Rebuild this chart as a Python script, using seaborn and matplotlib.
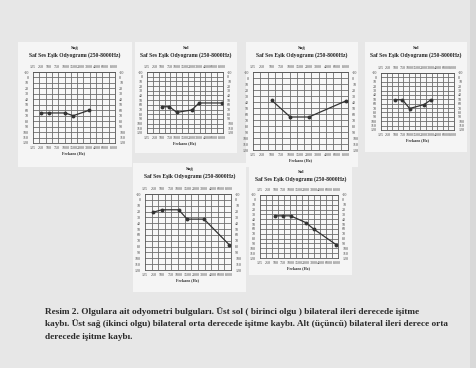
import matplotlib
matplotlib.use("Agg")
import matplotlib.pyplot as plt
import seaborn as sns
import numpy as np
from matplotlib.patches import Rectangle

sns.set_style("white")
plt.rcParams['font.family'] = ['Liberation Serif', 'DejaVu Serif']

# Frequency categories of the audiogram grid
freqs = ['125', '250', '500', '750', '1000', '1500', '2000', '3000', '4000', '6000', '8000']
db_ticks = [-10, 0, 10, 20, 30, 40, 50, 60, 70, 80, 90, 100, 110, 120]

# Case 1
case1_right_f = ['250', '500', '1000', '1500', '3000']
case1_right_db = [65, 65, 65, 70, 60]
case1_left_f = ['500', '750', '1000', '2000', '3000', '8000']
case1_left_db = [64, 64, 76, 71, 56, 56]
# Case 2
case2_right_f = ['500', '1000', '2000', '8000']
case2_right_db = [37, 65, 65, 38]
case2_left_f = ['500', '750', '1000', '2000', '3000']
case2_left_db = [51, 51, 71, 62, 51]
# Case 3
case3_right_f = ['250', '500', '1000', '1500', '3000', '8000']
case3_right_db = [21, 17, 17, 33, 33, 77]
case3_left_f = ['500', '750', '1000', '2000', '3000', '8000']
case3_left_db = [33, 33, 33, 47, 60, 93]

side_titles = ['Sağ', 'Sol', 'Sağ', 'Sol', 'Sağ', 'Sol']
subtitle = 'Saf Ses Eşik Odyogramı (250-8000Hz)'
caption = ['Resim 2. Olgulara ait odyometri bulguları. Üst sol ( birinci olgu ) bilateral ileri derecede işitme',
           'kaybı. Üst sağ (ikinci olgu) bilateral orta derecede işitme kaybı. Alt (üçüncü) bilateral ileri derece orta',
           'derecede işitme kaybı.']

W, H = 477, 368
fig = plt.figure(figsize=(W / 100, H / 100), dpi=100)
fig.patch.set_facecolor('#e7e7e7')


def px_rect(l, t, r, b):
    return [l / W, 1 - b / H, (r - l) / W, (b - t) / H]


def card(l, t, r, b, color='#f5f5f5'):
    x, y, w, h = px_rect(l, t, r, b)
    fig.patches.append(Rectangle((x, y), w, h, transform=fig.transFigure,
                                 facecolor=color, edgecolor='none', zorder=-10))


# darker strip at right edge of photo
card(470, 0, 477, 368, '#d9d9d9')

panels = [
    # grid box, card box, data
    ((33, 72, 115, 143), (18, 42, 132, 167), case1_right_f, case1_right_db),
    ((147, 72, 223, 133), (135, 42, 237, 153), case1_left_f, case1_left_db),
    ((253, 72, 348, 150), (246, 42, 358, 167), case2_right_f, case2_right_db),
    ((381, 73, 454, 130), (365, 42, 467, 152), case2_left_f, case2_left_db),
    ((145, 194, 231, 270), (133, 163, 246, 292), case3_right_f, case3_right_db),
    ((260, 195, 338, 258), (249, 166, 352, 275), case3_left_f, case3_left_db),
]

for i, (box, cbox, f, db) in enumerate(panels):
    card(*cbox)
    ax = fig.add_axes(px_rect(*box))
    ax.set_facecolor('#f7f7f7')
    pos = [freqs.index(v) for v in f]
    sns.lineplot(x=pos, y=db, ax=ax, color='#333333', marker='o',
                 markersize=2.8, linewidth=0.9, markeredgewidth=0)
    ax.set_xlim(0, 10.2)
    ax.set_ylim(120, -10)
    ax.set_xticks(range(len(freqs)))
    ax.set_xticklabels(freqs)
    ax.set_xticks(np.linspace(0, 10.2, 14), minor=True)
    ax.set_yticks(db_ticks)
    ax.set_yticklabels([str(v) for v in db_ticks])
    ax.grid(False)
    ax.grid(True, axis='x', which='minor', color='#6e6e6e', linewidth=0.6)
    ax.grid(True, axis='y', which='major', color='#6e6e6e', linewidth=0.6)
    ax.tick_params(which='both', length=0, labelsize=2.9, colors='#444444', pad=3,
                   labeltop=True, labelright=True)
    ax.tick_params(axis='x', which='both', pad=2)
    for s in ax.spines.values():
        s.set_color('#555555')
        s.set_linewidth(0.6)
    ax.set_xlabel('Frekans (Hz)', fontsize=3, fontweight='bold', labelpad=1, color='#333333')
    ax.set_ylabel('')
    cx = (cbox[0] + cbox[2]) / 2 / W
    fig.text(cx, 1 - (cbox[1] + 6) / H, side_titles[i], fontsize=3.5,
             fontweight='bold', ha='center', va='center', color='#222222')
    fig.text(cx, 1 - (cbox[1] + 13) / H, subtitle, fontsize=4.1,
             fontweight='bold', ha='center', va='center', color='#222222')

for j, line in enumerate(caption):
    fig.text(45 / W, 1 - (311 + j * 13) / H, line, fontsize=6.7,
             fontweight='bold', ha='left', va='center', color='#2a2a2a')

fig.savefig('out.png', dpi=100, facecolor=fig.get_facecolor())
